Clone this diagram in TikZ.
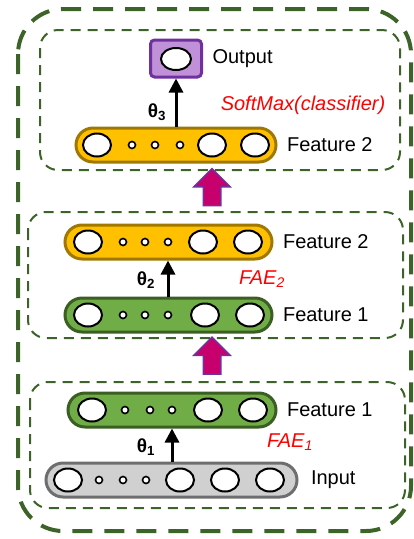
\documentclass[tikz,border=0pt]{standalone}
\usepackage{fontspec}
\setmainfont{Liberation Sans}
\usepackage{xcolor}
\usepackage{tikz}
\usetikzlibrary{positioning, arrows.meta, shapes.arrows}

\definecolor{boxgreen}{RGB}{61,100,40}
\definecolor{ylwfill}{RGB}{255,192,0}
\definecolor{ylwdraw}{RGB}{160,120,0}
\definecolor{grnfill}{RGB}{112,173,71}
\definecolor{grndraw}{RGB}{59,94,34}
\definecolor{gryfill}{RGB}{208,208,208}
\definecolor{grydraw}{RGB}{110,110,110}
\definecolor{outfill}{RGB}{192,144,216}
\definecolor{outdraw}{RGB}{112,48,160}
\definecolor{upfill}{RGB}{200,0,110}

\begin{document}
\begin{tikzpicture}[
    x=1pt, y=-1pt,
    font=\fontsize{20}{24}\selectfont,
    pill/.style={
        rectangle,
        rounded corners=17pt,
        line width=3pt,
        minimum height=34pt,
        inner sep=0pt
    },
    unit/.style={draw=black, fill=white, line width=2pt},
    dot/.style={draw=black, fill=white, line width=1.6pt},
    stage/.style={dashed, draw=boxgreen, line width=2pt, dash pattern=on 10pt off 7pt, rounded corners=18pt},
    whole/.style={draw=boxgreen, line width=4pt, dash pattern=on 20pt off 12pt, rounded corners=45pt},
    wt/.style={-{Triangle[width=14pt,length=14pt]}, line width=3pt},
    lbl/.style={right=6pt of #1},
    fae/.style={text=red, font=\fontsize{20}{24}\selectfont\itshape},
    up/.style={
        single arrow,
        rotate=90,
        draw=outdraw,
        fill=upfill,
        line width=1.5pt,
        minimum height=37pt,
        single arrow head extend=9.5pt,
        inner xsep=0pt,
        inner ysep=8pt
    }
]
\useasboundingbox (0,0) rectangle (414,539);

% Frames
\draw[whole] (18,9) rectangle (411,531);
\draw[stage] (40,30) rectangle (400,170);
\draw[stage] (28,212) rectangle (403,338);
\draw[stage] (30,382) rectangle (405,508);

% Classifier stage
\node[rectangle, rounded corners=4pt, draw=outdraw, fill=outfill, line width=3pt,
      minimum width=51pt, minimum height=37pt] (out) at (176,58.5) {};
\draw[unit] (176,59) ellipse (15 and 11);
\node[lbl=out] (outl) {Output};
\node[pill, draw=ylwdraw, fill=ylwfill, minimum width=200pt] (ftop) at (176,145) {};
\foreach \x in {97,212,255} \draw[unit] (\x,145) ellipse (14 and 11.5);
\foreach \x in {132,155,180} \draw[dot] (\x,145) circle (3.5);
\node[lbl=ftop] (ftopl) {Feature 2};
\draw[wt] (ftop.north) -- (out.south);
\node[font=\fontsize{19}{22}\selectfont\bfseries] (th3) at (157,112) {θ\textsubscript{3}};
\node[fae] (sm) at (303,105) {SoftMax(classifier)};

\node[up] (upa) at (212,191.5) {};

% FAE 2 stage
\node[pill, draw=ylwdraw, fill=ylwfill, minimum width=207pt] (fb) at (168.5,242) {};
\foreach \x in {88,203,248} \draw[unit] (\x,242) ellipse (14 and 11.5);
\foreach \x in {123,145,168} \draw[dot] (\x,242) circle (3.5);
\node[lbl=fb] (fbl) {Feature 2};
\node[pill, draw=grndraw, fill=grnfill, minimum width=207pt] (fa) at (168.5,315) {};
\foreach \x in {88,205,250} \draw[unit] (\x,315) ellipse (14 and 11.5);
\foreach \x in {123,145,168} \draw[dot] (\x,315) circle (3.5);
\node[lbl=fa] (fal) {Feature 1};
\draw[wt] (fa.north -| 168,0) -- (fb.south -| 168,0);
\node[font=\fontsize{19}{22}\selectfont\bfseries] (th2) at (146,280) {θ\textsubscript{2}};
\node[fae] (fae2) at (262,279) {FAE\textsubscript{2}};

\node[up] (upb) at (212,360) {};

% FAE 1 stage
\node[pill, draw=grndraw, fill=grnfill, minimum width=208pt] (fc) at (172,410) {};
\foreach \x in {92,208,253} \draw[unit] (\x,410) ellipse (14 and 11.5);
\foreach \x in {125,150,172} \draw[dot] (\x,410) circle (3.5);
\node[lbl=fc] (fcl) {Feature 1};
\node[pill, draw=grydraw, fill=gryfill, minimum width=251pt] (inp) at (171.5,480) {};
\foreach \x in {68,180,225,270} \draw[unit] (\x,480) ellipse (14 and 11.5);
\foreach \x in {99,123,146} \draw[dot] (\x,480) circle (3.5);
\node[right=9pt of inp] (inpl) {Input};
\draw[wt] (inp.north -| 172,0) -- (fc.south -| 172,0);
\node[font=\fontsize{19}{22}\selectfont\bfseries] (th1) at (146,447) {θ\textsubscript{1}};
\node[fae] (fae1) at (290,442) {FAE\textsubscript{1}};

\end{tikzpicture}
\end{document}
